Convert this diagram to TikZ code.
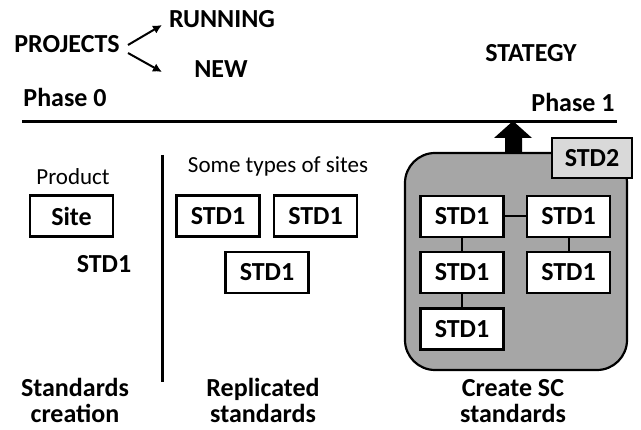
\documentclass[tikz,border=0pt]{standalone}
\usepackage{fontspec}
\setmainfont{Carlito}
\usetikzlibrary{arrows.meta}
\begin{document}
\begin{tikzpicture}[x=1pt,y=-1pt,
  bt/.style={font=\fontsize{26}{30}\selectfont\bfseries, inner sep=0pt, anchor=base},
  rt/.style={font=\fontsize{23}{27}\selectfont, inner sep=0pt, anchor=base},
  stdbox/.style={draw=black, line width=2.2pt, fill=white, minimum width=83pt, minimum height=41pt, inner sep=0pt, font=\fontsize{26}{30}\selectfont\bfseries},
  arr/.style={line width=2pt, -{Latex[length=9pt,width=9pt]}},
  link/.style={line width=2pt}]
\useasboundingbox (0,0) rectangle (641,430);
% top texts
\node[bt] (proj) at (67,53) {PROJECTS};
\node[bt] (run) at (222,28) {RUNNING};
\node[bt] (new) at (221,78) {NEW};
\node[bt] (strat) at (531,62) {STATEGY};
\node[bt] (ph0) at (65,107) {Phase 0};
\node[bt] (ph1) at (573,112) {Phase 1};
\coordinate (a1s) at (128,45);
\coordinate (a1e) at (162,25);
\coordinate (a2s) at (128,53);
\coordinate (a2e) at (162,72);
\draw[arr] (a1s) -- (a1e);
\draw[arr] (a2s) -- (a2e);
% lines
\coordinate (hl) at (22,122);
\coordinate (hr) at (617,122);
\draw[line width=3pt] (hl) -- (hr);
\coordinate (vt) at (162,155);
\coordinate (vb) at (162,382);
\draw[line width=3pt] (vt) -- (vb);
% left column
\node[rt] (prod) at (73,185) {Product};
\node[stdbox] (site) at (71.5,216) {Site};
\node[bt] (std1a) at (104,273) {STD1};
% middle
\node[rt] (types) at (278,173) {Some types of sites};
\node[stdbox] (r1) at (218,216) {STD1};
\node[stdbox] (r2) at (315.5,216) {STD1};
\node[stdbox] (r3) at (267,272.5) {STD1};
% right group
\draw[line width=2.2pt, fill=black!35, rounded corners=30pt] (405,153) rectangle (627,370);
\fill[black] (505,154) -- (505,138) -- (494,138) -- (513,121) -- (532,138) -- (522,138) -- (522,154) -- cycle;
\node[stdbox, fill=black!15, minimum width=80pt, minimum height=40pt] (std2) at (592,158) {STD2};
\node[stdbox] (l1) at (462,216.5) {STD1};
\node[stdbox] (q1) at (568.5,216.5) {STD1};
\node[stdbox] (l2) at (462,272.5) {STD1};
\node[stdbox] (q2) at (568.5,272.5) {STD1};
\node[stdbox] (l3) at (462,329) {STD1};
\draw[link] (l1) -- (q1);
\draw[link] (l1) -- (l2);
\draw[link] (l2) -- (l3);
\draw[link] (q1) -- (q2);
% bottom labels
\node[bt] (b1a) at (75,397) {Standards};
\node[bt] (b1b) at (75,423) {creation};
\node[bt] (b2a) at (263,397) {Replicated};
\node[bt] (b2b) at (263,423) {standards};
\node[bt] (b3a) at (513,397) {Create SC};
\node[bt] (b3b) at (513,423) {standards};
\end{tikzpicture}
\end{document}
